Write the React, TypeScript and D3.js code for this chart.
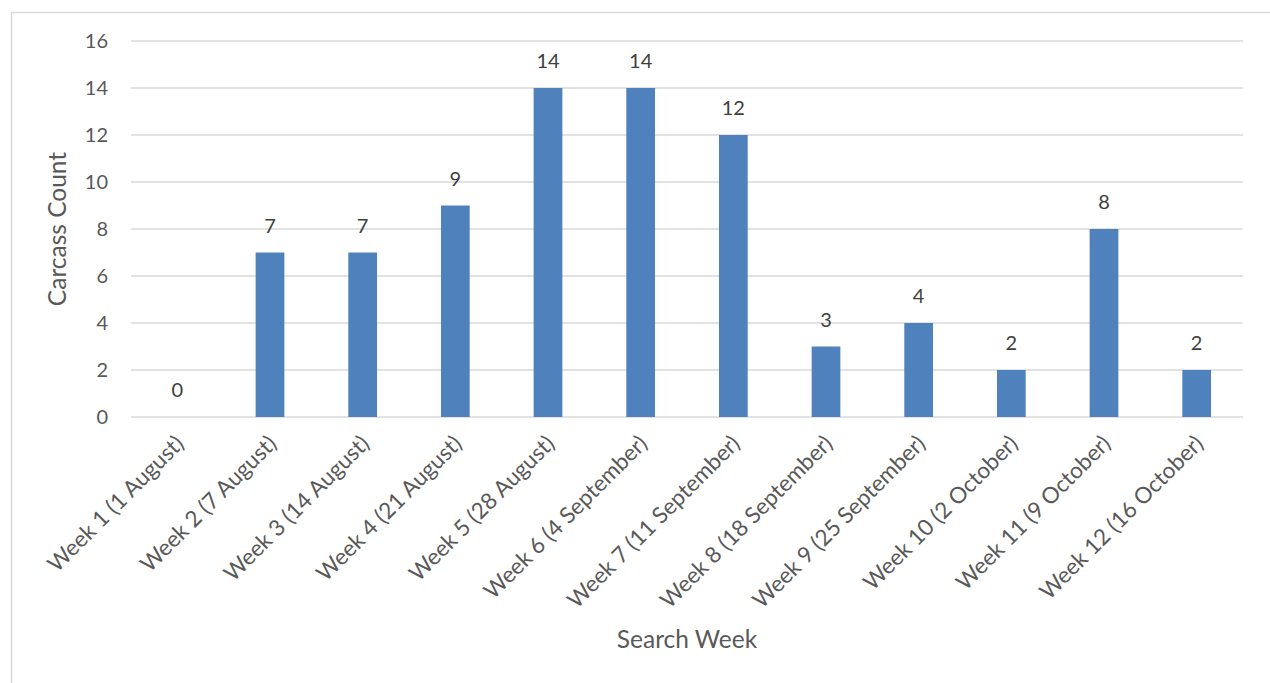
import React from "react";
import * as d3 from "d3";

const weeks = [
  "Week 1 (1 August)",
  "Week 2 (7 August)",
  "Week 3 (14 August)",
  "Week 4 (21 August)",
  "Week 5 (28 August)",
  "Week 6 (4 September)",
  "Week 7 (11 September)",
  "Week 8 (18 September)",
  "Week 9 (25 September)",
  "Week 10 (2 October)",
  "Week 11 (9 October)",
  "Week 12 (16 October)",
];
const counts = [0, 7, 7, 9, 14, 14, 12, 3, 4, 2, 8, 2];
const yTicks = [0, 2, 4, 6, 8, 10, 12, 14, 16];

const W = 1270;
const H = 683;
const FONT = "Lato, 'Open Sans', sans-serif";
const TEXT = "#595959";

const App = () => {
  const x = d3
    .scaleBand<string>()
    .domain(weeks)
    .range([131, 1243])
    .paddingInner(0.69)
    .paddingOuter(0.345);
  const y = d3.scaleLinear().domain([0, 16]).range([417, 41]);

  return (
    <svg
      width={W}
      height={H}
      style={{ position: "absolute", left: 0, top: 0, background: "#fff" }}
    >
      {/* chart frame */}
      <rect x={11.5} y={12.5} width={W} height={H} fill="none" stroke="#d9d9d9" strokeWidth={1.5} />

      {yTicks.map((t) => (
        <g key={t}>
          <line x1={131} x2={1243} y1={y(t)} y2={y(t)} stroke="#d9d9d9" strokeWidth={1.5} />
          <text
            x={108}
            y={y(t)}
            dy="0.35em"
            textAnchor="end"
            fontFamily={FONT}
            fontSize={20}
            fill={TEXT}
          >
            {t}
          </text>
        </g>
      ))}

      {weeks.map((w, i) => {
        const cx = x(w)! + x.bandwidth() / 2;
        return (
          <g key={w}>
            <rect
              x={x(w)}
              y={y(counts[i])}
              width={x.bandwidth()}
              height={y(0) - y(counts[i])}
              fill="#4f81bd"
            />
            <text
              x={cx}
              y={y(counts[i]) - 20}
              textAnchor="middle"
              fontFamily={FONT}
              fontSize={20}
              fill="#404040"
            >
              {counts[i]}
            </text>
            <text
              transform={`translate(${cx + 8},${445}) rotate(-45)`}
              textAnchor="end"
              fontFamily={FONT}
              fontSize={22.5}
              fill={TEXT}
            >
              {w}
            </text>
          </g>
        );
      })}

      <text
        transform={`translate(66,${(41 + 417) / 2}) rotate(-90)`}
        textAnchor="middle"
        fontFamily={FONT}
        fontSize={24.5}
        fill={TEXT}
      >
        Carcass Count
      </text>
      <text
        x={(131 + 1243) / 2}
        y={648}
        textAnchor="middle"
        fontFamily={FONT}
        fontSize={24.5}
        fill={TEXT}
      >
        Search Week
      </text>
    </svg>
  );
};

export default App;
